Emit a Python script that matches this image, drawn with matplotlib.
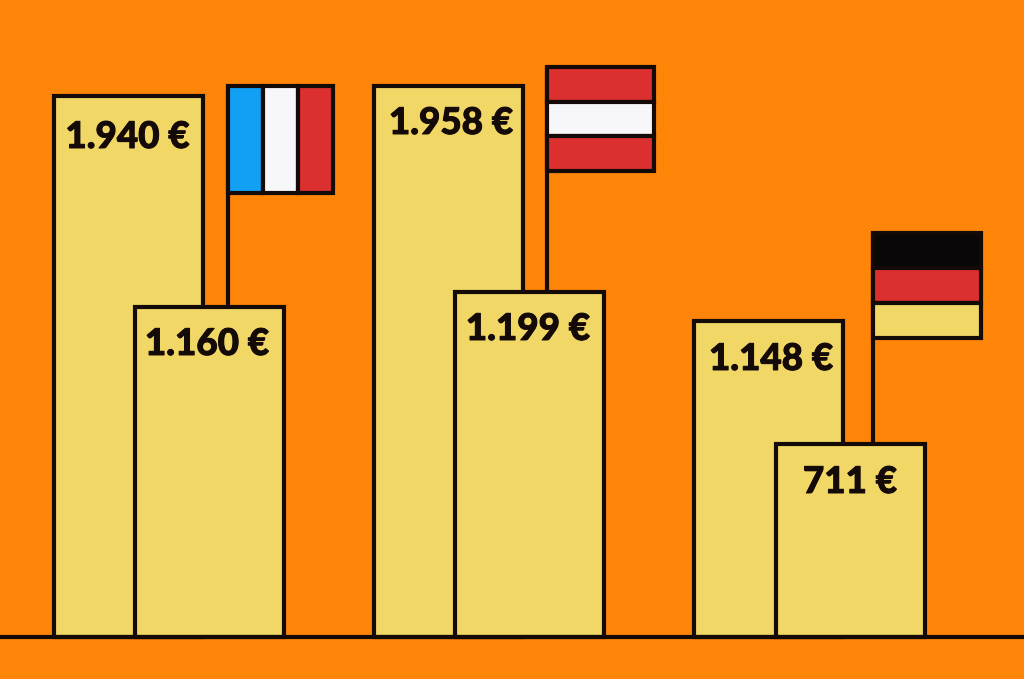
import matplotlib
matplotlib.use("Agg")
import matplotlib.pyplot as plt
import matplotlib.patheffects as pe
from matplotlib.patches import Rectangle

plt.rcParams['font.family'] = ['Lato', 'DejaVu Sans']

# Data
countries = ['Frankreich', 'Österreich', 'Deutschland']
labels_back = ['1.940 €', '1.958 €', '1.148 €']
labels_front = ['1.160 €', '1.199 €', '711 €']
# drawn bar heights, the picture is not exactly to scale with the labels
heights_back = [540.5, 550.5, 315.5]
heights_front = [329.5, 344.5, 192.5]

flag_stripes = {
    'Frankreich': ['#12A0F5', '#F7F7FA', '#DC2F2F'],
    'Österreich': ['#DC2F2F', '#F7F7FA', '#DC2F2F'],
    'Deutschland': ['#0A0708', '#DC2F2F', '#F0D766'],
}

ORANGE = '#FF8508'
YELLOW = '#F0D766'
BLACK = '#140A08'
LW = 3.0

# pixel layout
back_left = [54, 374, 694]
front_left = [135, 455, 776]
BAR_W = 148.5
flag_box = [(228, 333, 86, 193), (547, 654, 67, 171), (873, 981, 233, 338)]
text_back = [(127.5, 137), (451, 123), (771, 359)]
text_front = [(207, 344), (528, 329), (850, 482)]
BASE = 636.5

fig = plt.figure(figsize=(10.24, 6.79), dpi=100, facecolor=ORANGE)
ax = fig.add_axes([0, 0, 1, 1])
ax.set_xlim(0, 1024)
ax.set_ylim(BASE - 679, BASE)
ax.axis('off')

# back bars first, the poles and front bars sit on top
ax.bar(back_left, heights_back, width=BAR_W, align='edge', color=YELLOW,
       edgecolor=BLACK, linewidth=LW, zorder=2)

for i, c in enumerate(countries):
    x0, x1, top, bottom = flag_box[i]
    # pole
    ax.plot([x0, x0], [0, BASE - top], color=BLACK, lw=LW, zorder=1.5, solid_capstyle='butt')
    cols = flag_stripes[c]
    for j, col in enumerate(cols):
        if c == 'Frankreich':
            w = (x1 - x0) / 3
            r = Rectangle((x0 + j * w, BASE - bottom), w, bottom - top)
        else:
            h = (bottom - top) / 3
            r = Rectangle((x0, BASE - top - (j + 1) * h), x1 - x0, h)
        r.set(facecolor=col, edgecolor=BLACK, linewidth=LW, zorder=3)
        ax.add_patch(r)

ax.bar(front_left, heights_front, width=BAR_W, align='edge', color=YELLOW,
       edgecolor=BLACK, linewidth=LW, zorder=4)

ax.axhline(0, color=BLACK, lw=LW, zorder=5)

# thin stroke to get the heavier look of the original lettering
stroke = [pe.withStroke(linewidth=0.7, foreground=BLACK)]
for lab, (x, y) in zip(labels_back + labels_front, text_back + text_front):
    ax.text(x, BASE - y, lab, ha='center', va='center', fontsize=26.5,
            fontweight='black', color=BLACK, zorder=6, path_effects=stroke)

fig.savefig('out.png', dpi=100, facecolor=ORANGE)
